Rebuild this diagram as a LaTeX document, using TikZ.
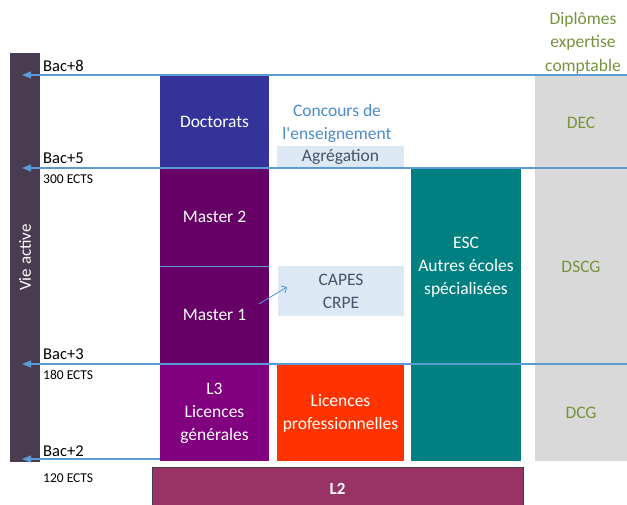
\documentclass[tikz,border=0pt]{standalone}
\usepackage{fontspec}
\setmainfont{Carlito}
\usetikzlibrary{arrows.meta}
\definecolor{vie}{HTML}{4A3C50}
\definecolor{lineblue}{HTML}{5B9BD5}
\definecolor{docc}{HTML}{333399}
\definecolor{masterc}{HTML}{660066}
\definecolor{lthree}{HTML}{800080}
\definecolor{licpro}{HTML}{FF3300}
\definecolor{escc}{HTML}{008080}
\definecolor{greyc}{HTML}{D9D9D9}
\definecolor{greentxt}{HTML}{77933C}
\definecolor{lightbox}{HTML}{DCE8F4}
\definecolor{concours}{HTML}{4A8BCB}
\definecolor{slate}{HTML}{44546A}
\definecolor{ltwo}{HTML}{993366}
\definecolor{ltwoborder}{HTML}{3F3F3F}
\begin{document}
\begin{tikzpicture}[x=1pt,y=-1pt,
  blk/.style={inner sep=0pt, outer sep=0pt, anchor=north west, align=center, text=white,
     font=\fontsize{17.5}{23}\selectfont},
  lbox/.style={blk, fill=lightbox, text=slate},
  bac/.style={anchor=west, inner sep=0pt, font=\fontsize{16.5}{18}\selectfont},
  ects/.style={anchor=west, inner sep=0pt, font=\fontsize{13.5}{15}\selectfont},
  green/.style={text=greentxt, align=center, inner sep=0pt, font=\fontsize{17.5}{23.5}\selectfont},
  level/.style={draw=lineblue, line width=1.2pt, -{Triangle[length=9pt,width=7pt]}},
]
\useasboundingbox (0,0) rectangle (627,504);

% left bar
\node[blk, fill=vie, minimum width=30pt, minimum height=409pt] (vie) at (10,53) {};
\node[rotate=90, text=white, inner sep=0pt, font=\fontsize{17}{20}\selectfont] (vietxt) at (vie.center) {Vie active};

% grey column
\node[blk, fill=greyc, minimum width=92pt, minimum height=386pt] (grey) at (535,75) {};
\node[green] (dec) at (581,123) {DEC};
\node[green] (dscg) at (581,267) {DSCG};
\node[green] (dcg) at (581,413) {DCG};
\node[green] (dip) at (583,43) {Diplômes\\expertise\\comptable};

% university column
\node[blk, fill=docc, minimum width=109pt, minimum height=92pt] (doc) at (160,76) {Doctorats};
\node[blk, fill=masterc, minimum width=109pt, minimum height=98pt] (m2) at (160,168) {Master 2};
\node[blk, fill=masterc, minimum width=109pt, minimum height=98pt] (m1) at (160,266) {Master 1};
\node[blk, fill=lthree, minimum width=109pt, minimum height=96pt] (l3) at (160,365) {L3\\Licences\\générales};

% middle column
\node[text=concours, align=center, inner sep=0pt, font=\fontsize{17.5}{23}\selectfont] (conc) at (337,123.5) {Concours de\\l\textquotesingle enseignement};
\node[lbox, minimum width=127pt, minimum height=22pt] (agr) at (277,146) {Agrégation};
\node[lbox, minimum width=126pt, minimum height=50pt] (capes) at (278,266) {CAPES\\CRPE};
\node[blk, fill=licpro, minimum width=127pt, minimum height=96pt] (lp) at (277,365) {Licences\\professionnelles};

% ESC
\node[blk, fill=escc, minimum width=110pt, minimum height=293pt] (esc) at (411,168) {};
\node[text=white, align=center, inner sep=0pt, font=\fontsize{17.5}{23}\selectfont] (esctxt) at (466,267) {ESC\\Autres écoles\\spécialisées};

% L2
\node[blk, fill=ltwo, draw=ltwoborder, line width=0.8pt, minimum width=371pt, minimum height=44pt,
  font=\fontsize{17}{20}\selectfont\bfseries] (l2) at (152,467) {L2};

% divider between master 1 and 2
\draw[lineblue, line width=0.9pt] (m1.north west) -- (m1.north east);

% level lines
\coordinate (b8r) at (627,75);  \coordinate (b8l) at (22,75);
\coordinate (b5r) at (627,168); \coordinate (b5l) at (22,168);
\coordinate (b3r) at (627,364); \coordinate (b3l) at (22,364);
\coordinate (b2r) at (160,459); \coordinate (b2l) at (22,459);
\draw[level] (b8r) -- (b8l);
\draw[level] (b5r) -- (b5l);
\draw[level] (b3r) -- (b3l);
\draw[level] (b2r) -- (b2l);

% small arrow
\coordinate (sa) at (259,304);
\coordinate (sb) at (287,287);
\draw[lineblue, line width=0.9pt, -{Straight Barb[length=4pt,width=8pt]}] (sa) -- (sb);

% level labels
\node[bac] (lb8) at (43,66) {Bac+8};
\node[bac] (lb5) at (43,158) {Bac+5};
\node[ects] (e300) at (43,179) {300 ECTS};
\node[bac] (lb3) at (43,354) {Bac+3};
\node[ects] (e180) at (43,375) {180 ECTS};
\node[bac] (lb2) at (43,451) {Bac+2};
\node[ects] (e120) at (43,478) {120 ECTS};
\end{tikzpicture}
\end{document}
